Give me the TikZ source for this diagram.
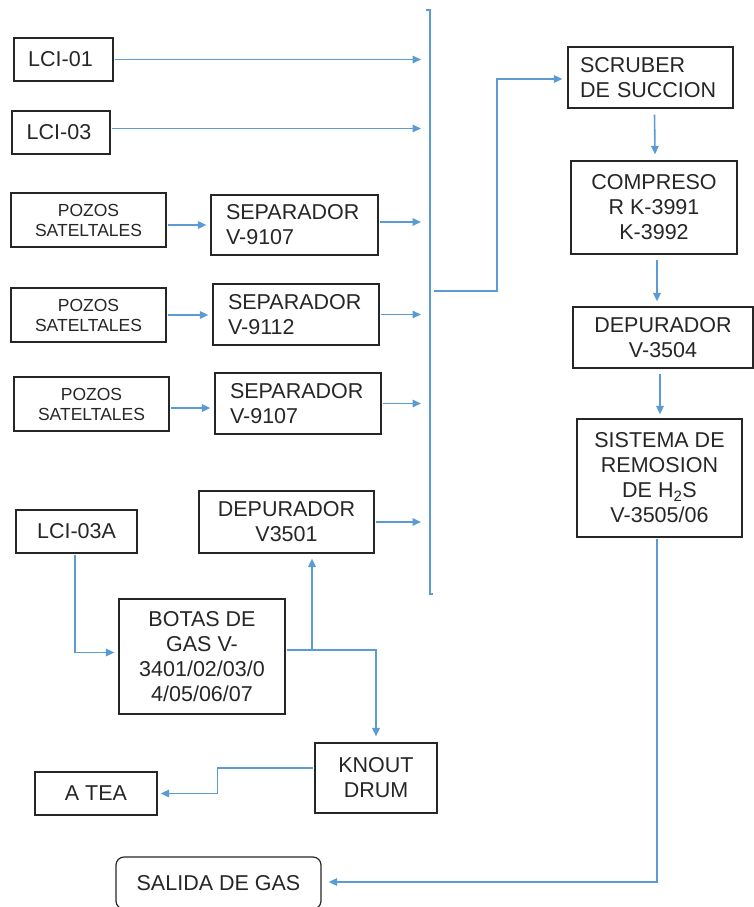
\documentclass[tikz,border=0pt]{standalone}
\usepackage{fontspec}
\setmainfont{Liberation Sans}
\usetikzlibrary{arrows.meta,calc}
\definecolor{flowblue}{HTML}{5B9BD5}
\definecolor{ink}{HTML}{262626}
\begin{document}
\begin{tikzpicture}[x=1pt,y=-1pt,
 box/.style={draw=ink, line width=1.2pt, text=ink, inner sep=0pt, font=\fontsize{21.5}{25}\selectfont, align=center},
 small/.style={font=\fontsize{17.5}{20}\selectfont},
 lefttext/.style={align=left},
 flow/.style={draw=flowblue, line width=1.6pt, shorten <=1pt, -{Triangle[length=8.5pt,width=7.5pt]}},
 busline/.style={draw=flowblue, line width=1.6pt}]
\useasboundingbox (0,0) rectangle (754,907);
\clip (0,0) rectangle (754,907);

% left column
\node[box, minimum width=99, minimum height=43] (lci01) at (63.5,59.5) {LCI-01\hspace{6pt}};
\node[box, minimum width=98, minimum height=43] (lci03) at (61,132.5) {LCI-03\hspace{4pt}};
\node[box, small, minimum width=155, minimum height=54] (poz1) at (88.5,220) {POZOS\\SATELTALES};
\node[box, lefttext, text width=137, minimum width=167, minimum height=60] (sep1) at (294.5,225) {SEPARADOR\\V-9107};
\node[box, small, minimum width=155, minimum height=54] (poz2) at (88.5,315) {POZOS\\SATELTALES};
\node[box, lefttext, text width=136, minimum width=166, minimum height=61] (sep2) at (296,314.5) {SEPARADOR\\V-9112};
\node[box, small, minimum width=155, minimum height=54] (poz3) at (91.5,404) {POZOS\\SATELTALES};
\node[box, lefttext, text width=136, minimum width=166, minimum height=61] (sep3) at (298,403.5) {SEPARADOR\\V-9107};
\node[box, minimum width=175, minimum height=62] (dep1) at (286.5,522) {DEPURADOR\\V3501};
\node[box, minimum width=121, minimum height=43] (lci03a) at (76.5,531.5) {LCI-03A};
\node[box, minimum width=166, minimum height=115] (botas) at (202,656.5) {BOTAS DE\\GAS V-\\3401/02/03/0\\4/05/06/07};
\node[box, minimum width=122, minimum height=70] (knout) at (376,778) {KNOUT\\DRUM};
\node[box, minimum width=122, minimum height=43] (atea) at (96,793.5) {A TEA};
\node[box, rounded corners=8pt, minimum width=205, minimum height=52] (salida) at (218.5,883) {SALIDA DE GAS};

% right column
\node[box, lefttext, text width=141, minimum width=165, minimum height=61] (scrub) at (650.5,77.5) {SCRUBER\\DE SUCCION};
\node[box, minimum width=166, minimum height=93] (comp) at (654,207.5) {COMPRESO\\R K-3991\\K-3992};
\node[box, minimum width=180, minimum height=61] (dep2) at (663,337.5) {DEPURADOR\\V-3504};
\node[box, minimum width=165, minimum height=118] (sist) at (659.5,478) {SISTEMA DE\\REMOSION\\DE H\textsubscript{2}S\\V-3505/06};

% collector bus
\coordinate (bt) at (430,10);
\coordinate (bb) at (430,594);
\coordinate (bx) at (430,0);
\draw[busline] ($(bt)+(-4,0)$) -- (bt) -- (bb) -- ++(3,0);

% into bus
\draw[flow, shorten >=9pt] (lci01.east) -- (lci01.east -| bx);
\draw[flow, shorten >=9pt] ($(lci03.east)+(0,-4)$) coordinate (s2) -- (s2 -| bx);
\draw[flow, shorten >=9pt] ($(sep1.east)+(0,-3)$) coordinate (s3) -- (s3 -| bx);
\draw[flow, shorten >=9pt] (sep2.east) -- (sep2.east -| bx);
\draw[flow, shorten >=9pt] (sep3.east) -- (sep3.east -| bx);
\draw[flow, shorten >=9pt] (dep1.east) -- (dep1.east -| bx);

% wells to separators
\draw[flow, shorten >=4pt] (poz1.east |- sep1.west) -- (sep1.west);
\draw[flow, shorten >=4pt] (poz2.east) -- (poz2.east -| sep2.west);
\draw[flow, shorten >=4pt] ($(poz3.east)+(0,4)$) coordinate (s4) -- (s4 -| sep3.west);

% bus out to scrubber
\coordinate (bo) at (433,291);
\draw[flow, shorten >=5pt] (bo) -- (497,291) |- ($(scrub.west)+(0,1.5)$);

% right chain
\draw[flow] ($(scrub.south)+(4,5)$) -- ($(comp.north)+(1,-6)$);
\draw[flow] ($(comp.south)+(3,4)$) -- ($(dep2.north)+(-6,-5)$);
\draw[flow] ($(dep2.south)+(-3,4)$) -- ($(sist.north)+(0.5,-4)$);
\draw[flow, shorten >=7pt] ($(sist.south)+(-2.5,0)$) |- ($(salida.east)+(0,-1)$);

% lower left
\draw[flow, shorten >=4pt] ($(lci03a.south)+(-1.5,0)$) |- ($(botas.west)+(0,-4)$);
\coordinate (bj) at ($(botas.east)+(0,-6.5)$);
\draw[flow, shorten >=5pt] (bj) -| ($(dep1.south)+(25.5,0)$);
\draw[flow, shorten >=6pt] (bj) -| (knout.north);
\draw[flow, shorten >=3pt] ($(knout.west)+(0,-10)$) -- ++(-97,0) |- (atea.east);
\end{tikzpicture}
\end{document}
